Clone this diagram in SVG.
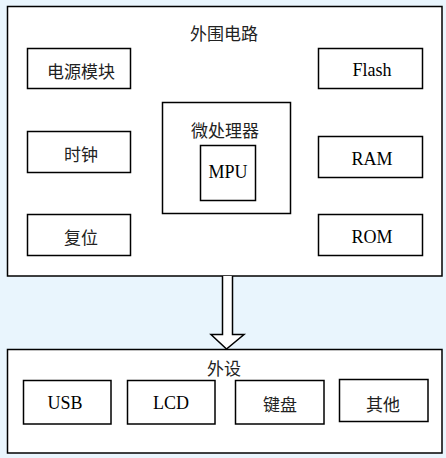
<svg xmlns="http://www.w3.org/2000/svg" width="446" height="458" viewBox="0 0 446 458">
<style>
.b{fill:#fff;stroke:#000;stroke-width:1.5}
.t{font-family:"Liberation Serif","DejaVu Serif",serif;font-size:18px;fill:#000;text-anchor:middle}
.c{font-family:"Noto Sans CJK SC",sans-serif;font-size:17px;fill:#222;text-anchor:middle}
</style>
<rect width="446" height="458" fill="#e9f5fd"/>
<g id="peripheral-circuit">
<rect class="b" x="7.5" y="6.5" width="434.5" height="269.5"/>
<text class="c" x="224" y="40">外围电路</text>
</g>
<g id="power"><rect class="b" x="27.5" y="48.5" width="103" height="40"/><text class="c" x="81" y="78">电源模块</text></g>
<g id="clock"><rect class="b" x="27.5" y="131.5" width="103" height="41"/><text class="c" x="81" y="161">时钟</text></g>
<g id="reset"><rect class="b" x="27.5" y="214.5" width="103" height="41"/><text class="c" x="81" y="244">复位</text></g>
<g id="microprocessor"><rect class="b" x="162.5" y="102.5" width="128" height="111"/><text class="c" x="225" y="137">微处理器</text></g>
<g id="mpu"><rect class="b" x="200.5" y="145.5" width="55" height="55"/><text class="t" x="228" y="178">MPU</text></g>
<g id="flash"><rect class="b" x="318.5" y="48.5" width="104" height="40"/><text class="t" x="372" y="76">Flash</text></g>
<g id="ram"><rect class="b" x="318.5" y="136.5" width="104" height="41"/><text class="t" x="372" y="165">RAM</text></g>
<g id="rom"><rect class="b" x="318.5" y="214.5" width="104" height="41"/><text class="t" x="372" y="243">ROM</text></g>
<g id="connectors">
<path class="b" d="M222.5,276 L222.5,334.5 L211,334.5 L226.5,349 L244,334.5 L232.5,334.5 L232.5,276"/>
</g>
<g id="peripherals">
<rect class="b" x="7.5" y="349.5" width="434.5" height="103.5"/>
<text class="c" x="224" y="375">外设</text>
</g>
<g id="usb"><rect class="b" x="23.5" y="380.5" width="87.5" height="43.5"/><text class="t" x="65" y="409">USB</text></g>
<g id="lcd"><rect class="b" x="127.5" y="380.5" width="87.5" height="43.5"/><text class="t" x="171" y="409">LCD</text></g>
<g id="keyboard"><rect class="b" x="235.5" y="380.5" width="88.5" height="43.5"/><text class="c" x="280" y="411">键盘</text></g>
<g id="other"><rect class="b" x="339.5" y="379.5" width="88.5" height="42"/><text class="c" x="383" y="411">其他</text></g>
</svg>
